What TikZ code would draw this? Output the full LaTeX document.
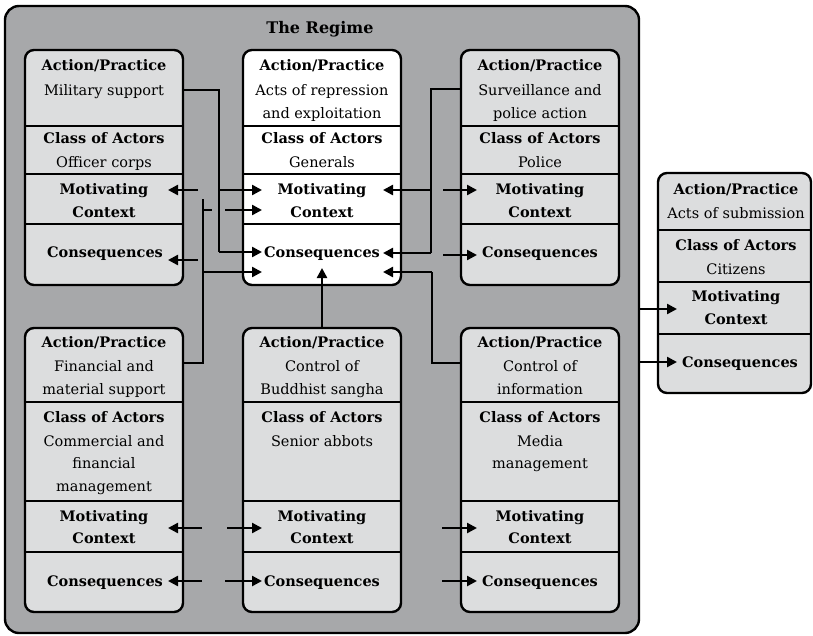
\documentclass[tikz,border=0pt]{standalone}
\usepackage{fontspec}
\setmainfont{DejaVu Serif}
\usetikzlibrary{arrows.meta}
\definecolor{regimegray}{HTML}{A7A8AA}
\definecolor{cellgray}{HTML}{DCDDDE}
\begin{document}
\begin{tikzpicture}[x=1pt,y=-1pt,
  frame/.style={draw=black, line width=2.4pt, rounded corners=14pt, fill=regimegray},
  unit/.style={draw=black, line width=2.4pt, rounded corners=9pt, fill=cellgray,
    inner sep=0pt, outer sep=0pt, anchor=north west},
  topunit/.style={unit, minimum width=158pt, minimum height=235pt},
  lowunit/.style={unit, minimum width=158pt, minimum height=284pt},
  head/.style={anchor=base, inner sep=0pt, font=\bfseries\fontsize{14.5}{17}\selectfont},
  body/.style={anchor=base, inner sep=0pt, font=\fontsize{14.5}{17}\selectfont},
  rule/.style={line width=2.4pt},
  link/.style={line width=2.4pt},
  flow/.style={line width=2.4pt, -{Triangle[length=10pt,width=10pt]}},
]
\useasboundingbox (0,0) rectangle (813,635);

% ---- the regime frame ----
\node[frame, inner sep=0pt, outer sep=0pt, anchor=north west,
  minimum width=634pt, minimum height=627pt] (regime) at (5,6) {};
\node[anchor=base, inner sep=0pt, font=\bfseries\fontsize{16}{19}\selectfont] (title) at (320,33) {The Regime};

% ---- boxes ----
\node[topunit] (mil) at (25,50) {};
\node[topunit, fill=white] (gen) at (243,50) {};
\node[topunit] (pol) at (461,50) {};
\node[lowunit] (fin) at (25,328) {};
\node[lowunit] (san) at (243,328) {};
\node[lowunit] (inf) at (461,328) {};
\node[unit, minimum width=153pt, minimum height=220pt] (cit) at (658,173) {};

% ---- section dividers ----
\foreach \xa/\xb in {25/183, 243/401, 461/619} {
  \foreach \yy in {126, 174, 224, 402, 501, 552}
    \draw[rule] (\xa,\yy) -- (\xb,\yy);
}
\foreach \yy in {230, 282, 334}
  \draw[rule] (658,\yy) -- (811,\yy);

% ---- Military support ----
\node[head] (mil-a) at (104,70) {Action/Practice};
\node[body] (mil-a1) at (104,95) {Military support};
\node[head] (mil-c) at (104,143) {Class of Actors};
\node[body] (mil-c1) at (104,167) {Officer corps};
\node[head] (mil-m) at (104,194) {Motivating};
\node[head] (mil-m1) at (104,217) {Context};
\node[head] (mil-q) at (105,257) {Consequences};

% ---- Generals ----
\node[head] (gen-a) at (322,70) {Action/Practice};
\node[body] (gen-a1) at (322,95) {Acts of repression};
\node[body] (gen-a2) at (322,118) {and exploitation};
\node[head] (gen-c) at (322,143) {Class of Actors};
\node[body] (gen-c1) at (322,167) {Generals};
\node[head] (gen-m) at (322,194) {Motivating};
\node[head] (gen-m1) at (322,217) {Context};
\node[head] (gen-q) at (322,257) {Consequences};

% ---- Police ----
\node[head] (pol-a) at (540,70) {Action/Practice};
\node[body] (pol-a1) at (540,95) {Surveillance and};
\node[body] (pol-a2) at (540,118) {police action};
\node[head] (pol-c) at (540,143) {Class of Actors};
\node[body] (pol-c1) at (540,167) {Police};
\node[head] (pol-m) at (540,194) {Motivating};
\node[head] (pol-m1) at (540,217) {Context};
\node[head] (pol-q) at (540,257) {Consequences};

% ---- Financial and material support ----
\node[head] (fin-a) at (104,347) {Action/Practice};
\node[body] (fin-a1) at (104,371) {Financial and};
\node[body] (fin-a2) at (104,394) {material support};
\node[head] (fin-c) at (104,422) {Class of Actors};
\node[body] (fin-c1) at (104,446) {Commercial and};
\node[body] (fin-c2) at (104,468) {financial};
\node[body] (fin-c3) at (104,491) {management};
\node[head] (fin-m) at (104,521) {Motivating};
\node[head] (fin-m1) at (104,543) {Context};
\node[head] (fin-q) at (105,586) {Consequences};

% ---- Buddhist sangha ----
\node[head] (san-a) at (322,347) {Action/Practice};
\node[body] (san-a1) at (322,371) {Control of};
\node[body] (san-a2) at (322,394) {Buddhist sangha};
\node[head] (san-c) at (322,422) {Class of Actors};
\node[body] (san-c1) at (322,446) {Senior abbots};
\node[head] (san-m) at (322,521) {Motivating};
\node[head] (san-m1) at (322,543) {Context};
\node[head] (san-q) at (322,586) {Consequences};

% ---- Information ----
\node[head] (inf-a) at (540,347) {Action/Practice};
\node[body] (inf-a1) at (540,371) {Control of};
\node[body] (inf-a2) at (540,394) {information};
\node[head] (inf-c) at (540,422) {Class of Actors};
\node[body] (inf-c1) at (540,446) {Media};
\node[body] (inf-c2) at (540,468) {management};
\node[head] (inf-m) at (540,521) {Motivating};
\node[head] (inf-m1) at (540,543) {Context};
\node[head] (inf-q) at (540,586) {Consequences};

% ---- Citizens ----
\node[head] (cit-a) at (736,194) {Action/Practice};
\node[body] (cit-a1) at (736,218) {Acts of submission};
\node[head] (cit-c) at (736,250) {Class of Actors};
\node[body] (cit-c1) at (736,274) {Citizens};
\node[head] (cit-m) at (736,301) {Motivating};
\node[head] (cit-m1) at (736,324) {Context};
\node[head] (cit-q) at (740,367) {Consequences};

% ---- connector ends ----
\coordinate (milOut) at (183,90);
\coordinate (milBend) at (219,90);
\coordinate (milFork) at (219,190);
\coordinate (milFoot) at (219,252);
\coordinate (genMotW) at (262,190);
\coordinate (genCtxW) at (262,210);
\coordinate (genConW) at (262,252);
\coordinate (genLowW) at (262,272);

\coordinate (finOut) at (183,363);
\coordinate (finBend) at (203,363);
\coordinate (finTop) at (203,199);
\coordinate (finCtx) at (203,210);
\coordinate (finLow) at (203,272);

\coordinate (polOut) at (461,89);
\coordinate (polBend) at (431,89);
\coordinate (polFork) at (431,190);
\coordinate (polFoot) at (431,253);
\coordinate (genMotE) at (383,190);
\coordinate (genConE) at (383,253);
\coordinate (genLowE) at (383,272);

\coordinate (infOut) at (461,363);
\coordinate (infBend) at (432,363);
\coordinate (infTop) at (432,272);

\coordinate (sanTop) at (322,328);
\coordinate (genUp) at (322,268);

% ---- connectors into the generals ----
\draw[link] (milOut) -- (milBend) -- (milFoot);
\draw[flow] (milFoot) -- (genConW);
\draw[flow] (milFork) -- (genMotW);

\draw[link] (finOut) -- (finBend) -- (finTop);
\draw[link] (finCtx) -- (212,210);
\draw[flow] (225,210) -- (genCtxW);
\draw[flow] (finLow) -- (genLowW);

\draw[link] (polOut) -- (polBend) -- (polFoot);
\draw[flow] (polFoot) -- (genConE);
\draw[flow] (polFork) -- (genMotE);

\draw[link] (infOut) -- (infBend) -- (infTop);
\draw[flow] (infTop) -- (genLowE);

\draw[flow] (sanTop) -- (genUp);

% ---- short arrows into the other units ----
\draw[flow] (198,190) -- (168,190);
\draw[flow] (198,260) -- (168,260);
\draw[flow] (443,190) -- (477,190);
\draw[flow] (443,255) -- (477,255);

\draw[flow] (202,528) -- (168,528);
\draw[flow] (227,528) -- (262,528);
\draw[flow] (202,581) -- (168,581);
\draw[flow] (225,581) -- (262,581);
\draw[flow] (442,528) -- (477,528);
\draw[flow] (442,581) -- (477,581);

% ---- from the regime to the citizens ----
\draw[flow] (regime.east |- 0,309) -- (677,309);
\draw[flow] (regime.east |- 0,362) -- (677,362);
\end{tikzpicture}
\end{document}
